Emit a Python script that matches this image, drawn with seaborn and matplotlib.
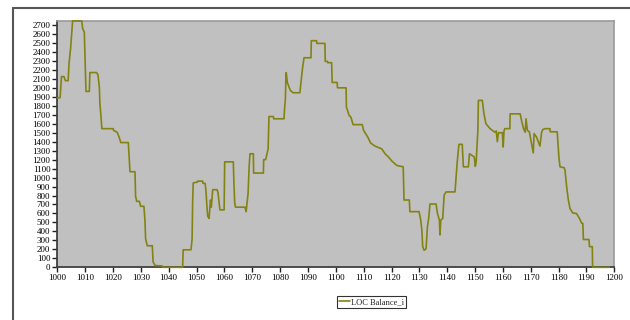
import pandas as pd
import matplotlib
matplotlib.use('Agg')
import matplotlib.pyplot as plt
import seaborn as sns
from matplotlib.lines import Line2D

# LOC balance (break points of the stepped line)
day = [1000.0, 1001.0, 1001.5, 1002.4, 1002.9, 1003.9, 1004.2, 1004.8, 1005.5, 1008.8,
       1009.1, 1009.7, 1010.0, 1010.3, 1011.5, 1011.7, 1014.1, 1014.6, 1015.1, 1015.3,
       1015.7, 1016.0, 1020.1, 1020.2, 1021.5, 1022.2, 1022.8, 1025.5, 1025.9, 1026.1,
       1027.9, 1028.1, 1028.5, 1029.5, 1029.9, 1031.1, 1031.5, 1031.7, 1032.3, 1034.1,
       1034.4, 1035.1, 1037.7, 1037.9, 1045.0, 1045.2, 1048.0, 1048.4, 1048.6, 1048.8,
       1050.3, 1050.4, 1052.2, 1052.3, 1053.1, 1053.4, 1053.7, 1054.0, 1054.5, 1055.0,
       1055.3, 1055.8, 1057.4, 1057.7, 1058.4, 1059.9, 1060.1, 1063.2, 1063.4, 1063.7,
       1064.0, 1067.4, 1067.8, 1068.5, 1068.9, 1069.2, 1070.4, 1070.5, 1074.0, 1074.1,
       1074.8, 1075.0, 1075.7, 1076.0, 1077.6, 1077.7, 1081.4, 1081.6, 1081.9, 1082.1,
       1082.2, 1082.6, 1083.3, 1083.7, 1084.7, 1087.1, 1087.3, 1087.7, 1088.1, 1088.6,
       1091.1, 1091.2, 1093.1, 1093.2, 1096.1, 1096.2, 1097.0, 1097.1, 1098.5, 1098.7,
       1100.5, 1100.6, 1103.7, 1103.8, 1104.2, 1104.8, 1105.3, 1105.6, 1106.2, 1109.5,
       1110.0, 1111.5, 1112.5, 1114.1, 1116.5, 1117.7, 1118.9, 1120.1, 1121.9, 1124.2,
       1124.5, 1126.4, 1126.6, 1129.9, 1130.5, 1130.9, 1131.2, 1131.7, 1132.4, 1132.9,
       1133.4, 1133.8, 1136.0, 1136.5, 1137.2, 1137.4, 1137.7, 1138.4, 1138.9, 1139.6,
       1142.8, 1143.1, 1143.6, 1144.2, 1145.4, 1145.8, 1147.6, 1148.0, 1149.7, 1150.1,
       1150.4, 1151.0, 1151.2, 1152.6, 1153.2, 1153.9, 1155.4, 1157.1, 1157.6, 1158.0,
       1158.4, 1159.8, 1160.1, 1160.4, 1160.7, 1162.5, 1162.6, 1166.2, 1166.7, 1167.4,
       1168.0, 1168.3, 1168.8, 1169.5, 1170.9, 1171.2, 1172.1, 1173.3, 1173.9, 1174.3,
       1175.1, 1176.9, 1177.0, 1179.5, 1180.1, 1180.5, 1182.0, 1182.3, 1182.9, 1183.5,
       1184.1, 1185.1, 1186.4, 1187.5, 1188.3, 1188.7, 1188.9, 1190.9, 1191.1, 1192.1,
       1192.2, 1198.2]
balance = [1890, 1890, 2125, 2125, 2080, 2080, 2265, 2450, 2745, 2745,
           2660, 2620, 2300, 1960, 1960, 2170, 2170, 2145, 2005, 1825,
           1675, 1545, 1545, 1525, 1505, 1450, 1390, 1390, 1175, 1065,
           1065, 795, 735, 735, 680, 680, 510, 320, 240, 240,
           60, 20, 15, 0, 0, 195, 195, 315, 735, 940,
           950, 960, 960, 935, 935, 840, 690, 570, 545, 750,
           670, 865, 865, 830, 640, 640, 1175, 1175, 955, 715,
           670, 670, 620, 825, 1135, 1265, 1265, 1050, 1050, 1200,
           1200, 1225, 1320, 1680, 1680, 1655, 1655, 1765, 1875, 2140,
           2170, 2060, 2000, 1970, 1945, 1945, 2005, 2120, 2230, 2335,
           2335, 2525, 2525, 2495, 2495, 2295, 2295, 2280, 2280, 2060,
           2060, 2000, 2000, 1785, 1750, 1690, 1680, 1655, 1590, 1590,
           1525, 1450, 1385, 1350, 1320, 1265, 1230, 1185, 1135, 1120,
           750, 750, 620, 620, 525, 415, 230, 190, 205, 450,
           560, 705, 705, 600, 525, 360, 525, 545, 805, 840,
           840, 970, 1175, 1370, 1370, 1120, 1120, 1265, 1230, 1125,
           1175, 1520, 1860, 1860, 1710, 1600, 1545, 1505, 1520, 1400,
           1500, 1500, 1340, 1520, 1545, 1545, 1710, 1710, 1635, 1545,
           1505, 1655, 1525, 1510, 1275, 1490, 1450, 1350, 1505, 1535,
           1545, 1545, 1510, 1510, 1230, 1120, 1110, 1080, 895, 750,
           655, 605, 600, 545, 490, 490, 310, 310, 230, 230,
           0, 0]

x_ticks = list(range(1000, 1201, 10))
y_ticks = list(range(0, 2701, 100))
series_label = 'LOC Balance_i'

df = pd.DataFrame({'day': day, 'balance': balance})

sns.set_theme(style='white')
plt.rcParams['font.family'] = ['Liberation Serif', 'DejaVu Serif']

line_color = '#838313'

fig = plt.figure(figsize=(6.3, 3.2), dpi=100)
ax = fig.add_axes([57.3 / 630, 1 - 267.3 / 320, (614.3 - 57.3) / 630, (267.3 - 20.7) / 320])
ax.set_facecolor('#c0c0c0')

sns.lineplot(data=df, x='day', y='balance', ax=ax, color=line_color, linewidth=1.2,
             estimator=None, sort=False, label=series_label)
# keep the zero-level and top stretches visible over the spines
for ln in ax.get_lines():
    ln.set_clip_on(False)
    ln.set_zorder(3)

ax.set_xlim(1000, 1200)
ax.set_ylim(0, 2748)
ax.set_xticks(x_ticks)
ax.set_yticks(y_ticks)
ax.set_xlabel('')
ax.set_ylabel('')
ax.tick_params(axis='both', which='major', direction='out', length=3.5, width=1,
               color='#202020', labelsize=6.5, pad=1.5, labelcolor='black')
ax.tick_params(axis='y', left=True)
ax.tick_params(axis='x', bottom=True)

for side in ['top', 'right']:
    ax.spines[side].set_color('#9a9a9a')
    ax.spines[side].set_linewidth(1.2)
for side in ['left', 'bottom']:
    ax.spines[side].set_color('#404040')
    ax.spines[side].set_linewidth(1.3)

# legend below the plot
leg = ax.legend(loc='upper left', bbox_to_anchor=(337 / 630, 1 - 296 / 320),
                bbox_transform=fig.transFigure, fontsize=6, frameon=True,
                fancybox=False, edgecolor='black', handlelength=1.3,
                handletextpad=0.15, borderpad=0.25, borderaxespad=0)
leg.get_frame().set_linewidth(0.8)

# outer frame (top and left edges visible)
fig.add_artist(Line2D([12.5 / 630, 1.0], [1 - 8 / 320, 1 - 8 / 320],
                      transform=fig.transFigure, color='#555555', linewidth=1.5))
fig.add_artist(Line2D([12.5 / 630, 12.5 / 630], [0.0, 1 - 8 / 320],
                      transform=fig.transFigure, color='#555555', linewidth=1.5))

plt.savefig('out.png', dpi=100)
